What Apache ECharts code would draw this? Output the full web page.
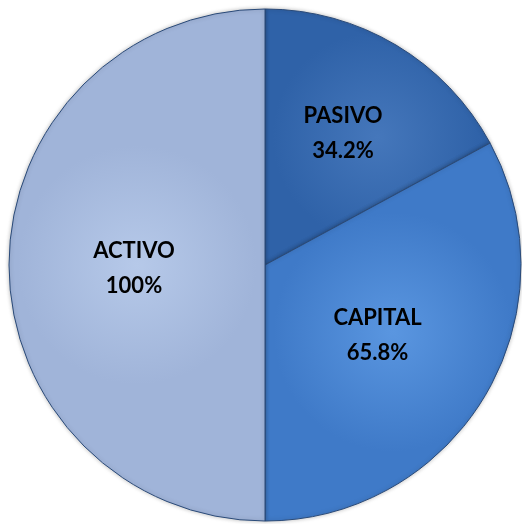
<!DOCTYPE html>
<html>
<head>
<meta charset="utf-8">
<script src="https://cdn.jsdelivr.net/npm/echarts@6/dist/echarts.min.js"></script>
<style>
  html, body { margin: 0; padding: 0; background: #fff; }
  #chart { width: 522px; height: 524px; }
</style>
</head>
<body>
<div id="chart"></div>
<script>
// datos del grafico
var categories = ['PASIVO', 'CAPITAL', 'ACTIVO'];
var values = [34.2, 65.8, 100];
var labels = ['34.2%', '65.8%', '100%'];

var colors = [
  ['#4577bb', '#2f62a8'],
  ['#5a96e0', '#3f7ac8'],
  ['#b6c9e9', '#a0b4d9']
];

function fill(c) {
  return new echarts.graphic.RadialGradient(0.5, 0.5, 0.5, [
    { offset: 0, color: c[0] },
    { offset: 0.93, color: c[1] },
    { offset: 1, color: c[1] }
  ], false);
}

var chart = echarts.init(document.getElementById('chart'));

var data = [];
for (var i = 0; i < categories.length; i++) {
  var item = {
    name: categories[i],
    value: values[i],
    itemStyle: { color: fill(colors[i]) },
    label: { formatter: categories[i] + '\n' + labels[i] }
  };
  if (i == 0) item.label.offset = [11, -19];
  else item.label.offset = [0, 3];
  data.push(item);
}

chart.setOption({
  animation: false,
  series: [{
    type: 'pie',
    center: [265, 265],
    radius: [0, 256],
    startAngle: 90,
    clockwise: true,
    data: data,
    itemStyle: {
      borderColor: '#2a4a78',
      borderWidth: 1,
      shadowBlur: 4,
      shadowColor: 'rgba(0,0,0,0.25)'
    },
    label: {
      show: true,
      position: 'inside',
      color: '#000',
      fontFamily: 'Lato',
      fontWeight: 'bold',
      fontSize: 22,
      lineHeight: 35
    },
    labelLine: { show: false },
    emphasis: { disabled: true }
  }]
});
</script>
</body>
</html>
